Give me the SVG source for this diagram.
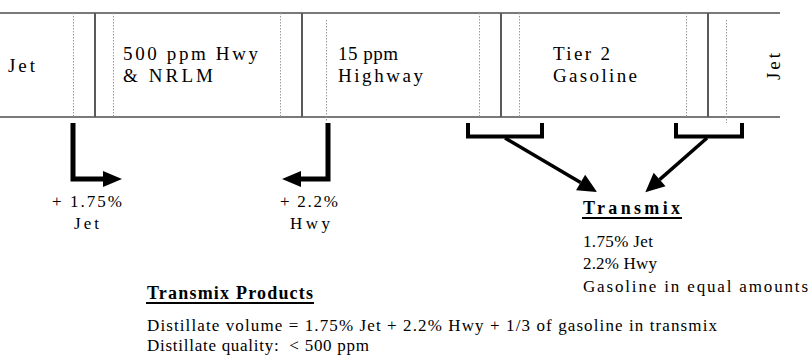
<svg xmlns="http://www.w3.org/2000/svg" width="809" height="356" viewBox="0 0 809 356">
<defs>
<style>
.lbl{font-size:19px}
.sm{font-size:17px}
.b{font-weight:bold;font-size:18px}
.pipe{stroke:#7a7a7a;stroke-width:2;fill:none}
.seg{stroke:#5a5a5a;stroke-width:2;fill:none}
.dot{stroke:#9a9a9a;stroke-width:1;stroke-dasharray:1.5 1.5;fill:none}
.ul{stroke:#000;stroke-width:2.2}
.thick{stroke:#000;stroke-width:5;fill:none;stroke-linejoin:miter}
.brk{stroke:#000;stroke-width:4;fill:none;stroke-linejoin:miter}
.diag{stroke:#000;stroke-width:3.5;fill:none}
</style>
<marker id="ah" markerUnits="userSpaceOnUse" markerWidth="20" markerHeight="18" refX="0" refY="8" orient="auto" overflow="visible">
<path d="M0,0 L19,8 L0,16 Z" fill="#000"/>
</marker>
<marker id="ah2" markerUnits="userSpaceOnUse" markerWidth="20" markerHeight="20" refX="0" refY="9" orient="auto" overflow="visible">
<path d="M0,0 L19,9 L0,18 Z" fill="#000"/>
</marker>
</defs>

<g id="pipeline">
<line class="pipe" x1="0" y1="13" x2="780" y2="13"/>
<line class="pipe" x1="0" y1="117" x2="780" y2="117"/>
<line class="seg" x1="95" y1="13" x2="95" y2="117"/>
<line class="seg" x1="302" y1="13" x2="302" y2="117"/>
<line class="seg" x1="501" y1="13" x2="501" y2="117"/>
<line class="seg" x1="708" y1="13" x2="708" y2="117"/>
<line class="dot" x1="73.5" y1="13" x2="73.5" y2="117"/>
<line class="dot" x1="113.5" y1="13" x2="113.5" y2="117"/>
<line class="dot" x1="280.5" y1="13" x2="280.5" y2="117"/>
<line class="dot" x1="326.5" y1="20" x2="326.5" y2="121"/>
<line class="dot" x1="479.5" y1="13" x2="479.5" y2="117"/>
<line class="dot" x1="519.5" y1="13" x2="519.5" y2="117"/>
<line class="dot" x1="686.5" y1="13" x2="686.5" y2="117"/>
<line class="dot" x1="726.5" y1="20" x2="726.5" y2="123"/>
</g>

<g font-family="Liberation Serif" fill="#000">
<g id="jet-left"><text class="lbl" x="8" y="72" textLength="27" lengthAdjust="spacing">Jet</text></g>
<g id="hwy500">
<text class="lbl" x="123" y="60" textLength="135" lengthAdjust="spacing">500 ppm Hwy</text>
<text class="lbl" x="123" y="82" textLength="90" lengthAdjust="spacing">&amp; NRLM</text>
</g>
<g id="hwy15">
<text class="lbl" x="338" y="60" textLength="60" lengthAdjust="spacing">15 ppm</text>
<text class="lbl" x="338" y="82" textLength="85" lengthAdjust="spacing">Highway</text>
</g>
<g id="gasoline">
<text class="lbl" x="553" y="60" textLength="57" lengthAdjust="spacing">Tier 2</text>
<text class="lbl" x="553" y="82" textLength="84" lengthAdjust="spacing">Gasoline</text>
</g>
<g id="jet-right"><text class="lbl" transform="translate(780,80) rotate(-90)" x="0" y="0" textLength="27" lengthAdjust="spacing">Jet</text></g>

<g id="jet-cut">
<text class="sm" x="52" y="207" textLength="70" lengthAdjust="spacing">+ 1.75%</text>
<text class="sm" x="74" y="229" textLength="25" lengthAdjust="spacing">Jet</text>
</g>
<g id="hwy-cut">
<text class="sm" x="280" y="207" textLength="58" lengthAdjust="spacing">+ 2.2%</text>
<text class="sm" x="290" y="229" textLength="40" lengthAdjust="spacing">Hwy</text>
</g>

<g id="transmix">
<text class="b" x="583" y="214" textLength="97" lengthAdjust="spacing">Transmix</text>
<line class="ul" x1="582" y1="218" x2="682" y2="218"/>
<text class="sm" x="583" y="247" textLength="70" lengthAdjust="spacing">1.75% Jet</text>
<text class="sm" x="583" y="269" textLength="74" lengthAdjust="spacing">2.2% Hwy</text>
<text class="sm" x="583" y="292" textLength="225" lengthAdjust="spacing">Gasoline in equal amounts</text>
</g>

<g id="transmix-products">
<text class="b" x="147" y="299" textLength="166" lengthAdjust="spacing">Transmix Products</text>
<line class="ul" x1="146" y1="303" x2="314" y2="303"/>
<text class="sm" x="147" y="331" textLength="570" lengthAdjust="spacing">Distillate volume = 1.75% Jet + 2.2% Hwy + 1/3 of gasoline in transmix</text>
<text class="sm" x="147" y="351" textLength="222" lengthAdjust="spacing" xml:space="preserve">Distillate quality:  &lt; 500 ppm</text>
</g>
</g>

<g id="connectors">
<path class="thick" d="M73,123 V179 H103" marker-end="url(#ah)"/>
<path class="thick" d="M328,123 V179 H301" marker-end="url(#ah)"/>
<path class="brk" d="M468,123 V136.5 H542 V123"/>
<path class="brk" d="M676,123 V136.5 H742 V123"/>
<path class="diag" d="M505,138 L580.6,182.4" marker-end="url(#ah2)"/>
<path class="diag" d="M707,138 L659.6,179.6" marker-end="url(#ah2)"/>
</g>
</svg>
